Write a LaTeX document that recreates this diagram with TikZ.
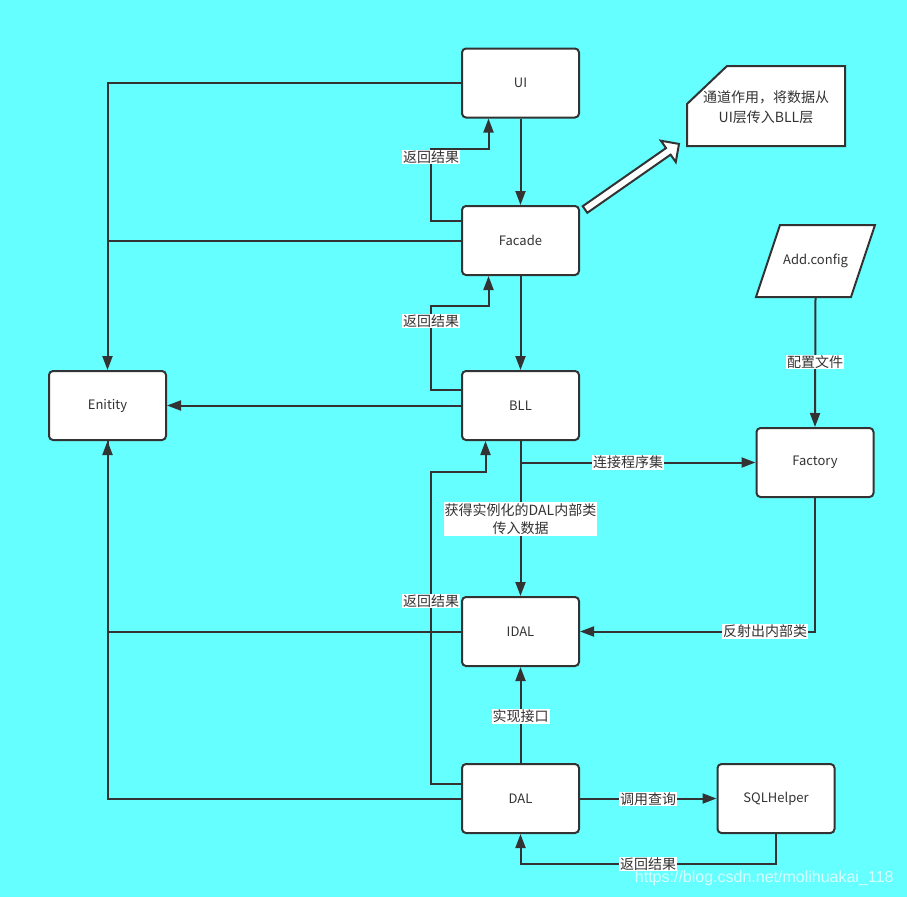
\documentclass[tikz,border=0pt]{standalone}
\usepackage{fontspec}
\setmainfont{Noto Sans CJK SC}
\newfontfamily\wmfont{Liberation Sans}
\usetikzlibrary{arrows.meta}
\definecolor{cyanbg}{RGB}{102,255,255}
\definecolor{ink}{RGB}{51,51,51}
\tikzset{
  blk/.style={draw=ink, fill=white, line width=2pt, rounded corners=4pt,
    minimum width=117pt, minimum height=69pt, text=ink, font=\fontsize{13}{15}\selectfont},
  conn/.style={draw=ink, line width=2pt, -{Triangle[length=14pt,width=10pt]}},
  wire/.style={draw=ink, line width=2pt},
  shp/.style={draw=ink, fill=white, line width=2pt},
  lbl/.style={fill=white, inner sep=1pt, text=ink, align=center,
    font=\fontsize{14}{18}\selectfont},
}

\begin{document}
\begin{tikzpicture}[x=1pt, y=-1pt]
  \fill[cyanbg] (0,0) rectangle (907,897);
  \useasboundingbox (0,0) rectangle (907,897);

  % layers
  \node[blk] (ui)   at (520.5,83)    {UI};
  \node[blk] (fac)  at (520.5,240.5) {Facade};
  \node[blk] (bll)  at (520.5,405.5) {BLL};
  \node[blk] (idal) at (520.5,631.5) {IDAL};
  \node[blk] (dal)  at (520.5,798.5) {DAL};
  \node[blk] (ent)  at (107.5,405.5) {Enitity};
  \node[blk] (fcty) at (815,462.5)   {Factory};
  \node[blk] (sql)  at (776,798.5)   {SQLHelper};

  % config file
  \draw[shp] (780,225) -- (875,225) -- (851,297) -- (756,297) -- cycle;
  \node[text=ink, font=\fontsize{13}{15}\selectfont] (cfg) at (815.5,261) {Add.config};
  \coordinate (cfgb) at (815.5,297);

  % note
  \draw[shp] (687,104) -- (727,66) -- (845,66) -- (845,146) -- (687,146) -- cycle;
  \node[text=ink, align=center, font=\fontsize{14}{20}\selectfont] (note) at (766,107)
    {通道作用，将数据从\\UI层传入BLL层};
  \begin{scope}[shift={(585,209.5)}, rotate=34.9]
    \draw[shp, line join=miter] (0,-4) -- (101.6,-4) -- (101.6,-13) -- (114.6,0)
      -- (101.6,13) -- (101.6,4) -- (0,4) -- cycle;
  \end{scope}

  % main flow
  \draw[conn] (ui.south) -- (fac.north);
  \draw[conn] (fac.south) -- (bll.north);
  \draw[conn] (bll.south) -- (idal.north);
  \draw[conn] (dal.north) -- (idal.south);
  \draw[conn] (dal.east) -- (sql.west);
  \draw[conn] (sql.south) -- ++(0,30) -| (dal.south);
  \draw[conn] (bll.south |- fcty.west) -- (fcty.west);
  \draw[conn] (fcty.south) |- (idal.east);
  \draw[conn] (cfgb) -- (fcty.north);

  % entity
  \draw[conn] (ui.west) -| (ent.north);
  \draw[wire] (fac.west) -- (fac.west -| ent.north);
  \draw[conn] (bll.west) -- (ent.east);
  \draw[conn] (idal.west) -| (ent.south);
  \draw[wire] (dal.west) -| (ent.south);

  % results back
  \draw[conn] ([yshift=19.5pt]fac.west) -- ++(-30,0) -- ++(0,-72) -| ([xshift=-32pt]ui.south);
  \draw[conn] ([yshift=15.5pt]bll.west) -- ++(-30,0) -- ++(0,-84) -| ([xshift=-32pt]fac.south);
  \draw[conn] ([yshift=14.5pt]dal.west) -- ++(-30,0) -- ++(0,-312) -| ([xshift=-35pt]bll.south);

  % labels
  \node[lbl] (r1)   at (431,157)   {返回结果};
  \node[lbl] (r2)   at (431,321)   {返回结果};
  \node[lbl] (r3)   at (431,601)   {返回结果};
  \node[lbl] (r4)   at (648,864)   {返回结果};
  \node[lbl] (call) at (648,799)   {调用查询};
  \node[lbl] (impl) at (520.5,716) {实现接口};
  \node[lbl] (get)  at (520.5,519) {获得实例化的DAL内部类\\传入数据};
  \node[lbl] (link) at (628,462)   {连接程序集};
  \node[lbl] (refl) at (765,631.5) {反射出内部类};
  \node[lbl] (conf) at (815,362)   {配置文件};

  \node[anchor=east, text=white, opacity=0.75, font=\wmfont\fontsize{16}{18}\selectfont] (wm) at (897,878)
    {https://blog.csdn.net/molihuakai\_118};
\end{tikzpicture}
\end{document}
